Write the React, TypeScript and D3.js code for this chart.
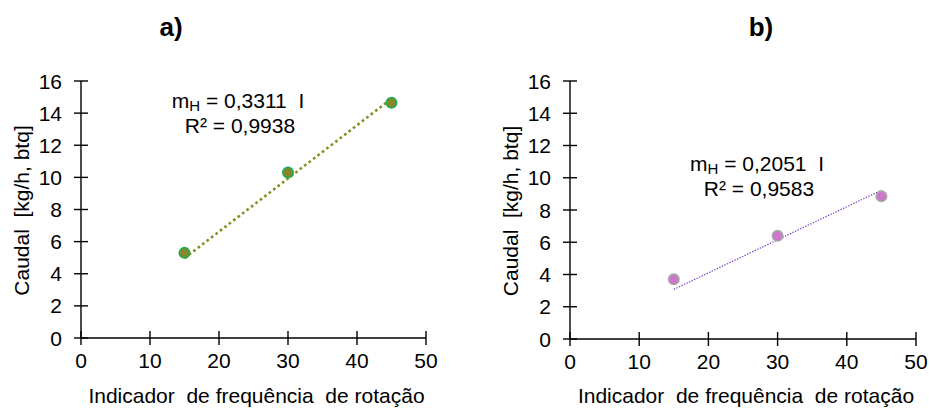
import React from "react";
import * as d3 from "d3";

// Rotation indicator settings (x) and measured flow rates (y)
const rotationIndicator = [15, 30, 45];
const flowA = [5.3, 10.3, 14.65];
const flowB = [3.7, 6.4, 8.85];

// Linear fits through the origin: Caudal = m_H * I
const slopeA = 0.3311;
const slopeB = 0.2051;
const slopeLabelA = "0,3311";
const slopeLabelB = "0,2051";
const r2LabelA = "0,9938";
const r2LabelB = "0,9583";

const xTicks = [0, 10, 20, 30, 40, 50];
const yTicks = [0, 2, 4, 6, 8, 10, 12, 14, 16];

const FONT = "'Liberation Sans', Arial, sans-serif";
const FS = 21;

type PanelProps = {
  title: string;
  left: number;
  right: number;
  top: number;
  bottom: number;
  values: number[];
  slope: number;
  slopeLabel: string;
  r2Label: string;
  markerFill: string;
  markerStroke: string;
  lineColor: string;
  lineWidth: number;
  lineDash: string;
  noteX: number;
  noteY: number;
  titleX: number;
};

function Panel(p: PanelProps) {
  const x = d3.scaleLinear().domain([0, 50]).range([p.left, p.right]);
  const y = d3.scaleLinear().domain([0, 16]).range([p.bottom, p.top]);
  const xs = d3.extent(rotationIndicator) as [number, number];
  const fit = d3
    .line<number>()
    .x((d) => x(d))
    .y((d) => y(p.slope * d));
  const tick = 7;
  return (
    <g fontFamily={FONT} fill="#000">
      <text x={p.titleX} y={36} fontSize={26} fontWeight="bold" textAnchor="middle">
        {p.title}
      </text>

      {/* y axis */}
      <line x1={x(0)} x2={x(0)} y1={y(0)} y2={y(16)} stroke="#000" strokeWidth={1.4} />
      {yTicks.map((t) => (
        <g key={"y" + t}>
          <line x1={x(0) - tick} x2={x(0) + tick} y1={y(t)} y2={y(t)} stroke="#000" strokeWidth={1.4} />
          <text x={x(0) - 19} y={y(t)} dy="0.36em" fontSize={FS} textAnchor="end">
            {t}
          </text>
        </g>
      ))}

      {/* x axis */}
      <line x1={x(0)} x2={x(50)} y1={y(0)} y2={y(0)} stroke="#000" strokeWidth={1.4} />
      {xTicks.map((t) => (
        <g key={"x" + t}>
          <line x1={x(t)} x2={x(t)} y1={y(0) - tick} y2={y(0) + tick} stroke="#000" strokeWidth={1.4} />
          <text x={x(t)} y={y(0) + 30} fontSize={FS} textAnchor="middle">
            {t}
          </text>
        </g>
      ))}

      <text
        x={(x(0) + x(50)) / 2 + 3}
        y={403}
        fontSize={FS}
        textAnchor="middle"
        style={{ whiteSpace: "pre" }}
      >
        {"Indicador  de frequência  de rotação"}
      </text>
      <text
        transform={`translate(${x(0) - 59},${(y(0) + y(16)) / 2 + 1}) rotate(-90)`}
        dy="0.35em"
        fontSize={FS}
        textAnchor="middle"
        style={{ whiteSpace: "pre" }}
      >
        {"Caudal  [kg/h, btq]"}
      </text>

      {/* trend line */}
      <path
        d={fit(xs) || ""}
        fill="none"
        stroke={p.lineColor}
        strokeWidth={p.lineWidth}
        strokeDasharray={p.lineDash}
      />

      {/* measurements */}
      {rotationIndicator.map((r, i) => (
        <circle
          key={"p" + i}
          cx={x(r)}
          cy={y(p.values[i])}
          r={5.2}
          fill={p.markerFill}
          stroke={p.markerStroke}
          strokeWidth={1.6}
        />
      ))}

      {/* fit annotation */}
      <text x={p.noteX} y={p.noteY} fontSize={FS} textAnchor="middle" style={{ whiteSpace: "pre" }}>
        m<tspan fontSize={15} dy={3}>H</tspan>
        <tspan dy={-3}>{` = ${p.slopeLabel}  I`}</tspan>
      </text>
      <text x={p.noteX + 2} y={p.noteY + 25} fontSize={FS} textAnchor="middle">
        {`R² = ${p.r2Label}`}
      </text>
    </g>
  );
}

export default function App() {
  return (
    <svg width={929} height={409} style={{ display: "block", position: "absolute", left: 0, top: 0 }}>
      <rect width={929} height={409} fill="#fff" />
      <Panel
        title="a)"
        titleX={171}
        left={81}
        right={426}
        top={81}
        bottom={338}
        values={flowA}
        slope={slopeA}
        slopeLabel={slopeLabelA}
        r2Label={r2LabelA}
        markerFill="#86862a"
        markerStroke="#1fae4f"
        lineColor="#7f8f1f"
        lineWidth={2.6}
        lineDash="2.6 3"
        noteX={238}
        noteY={108}
      />
      <Panel
        title="b)"
        titleX={761}
        left={570}
        right={916}
        top={81}
        bottom={339}
        values={flowB}
        slope={slopeB}
        slopeLabel={slopeLabelB}
        r2Label={r2LabelB}
        markerFill="#cc77cc"
        markerStroke="#a6a6a6"
        lineColor="#7a3cc8"
        lineWidth={1.2}
        lineDash="1.4 1.4"
        noteX={757}
        noteY={171}
      />
    </svg>
  );
}
